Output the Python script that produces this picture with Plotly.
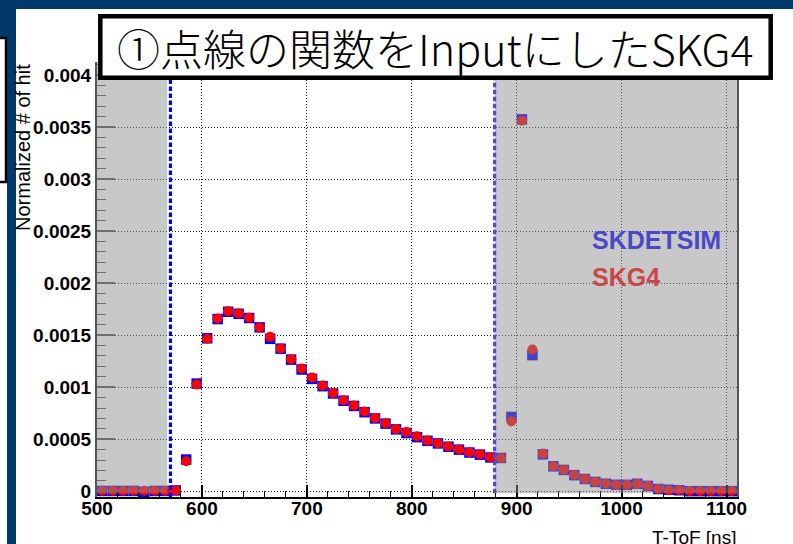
import plotly.graph_objects as go

# ---------------- data ----------------
bin_centers = [505, 515, 525, 535, 545, 555, 565, 575, 585, 595,
               605, 615, 625, 635, 645, 655, 665, 675, 685, 695,
               705, 715, 725, 735, 745, 755, 765, 775, 785, 795,
               805, 815, 825, 835, 845, 855, 865, 875, 885, 895,
               905, 915, 925, 935, 945, 955, 965, 975, 985, 995,
               1005, 1015, 1025, 1035, 1045, 1055, 1065, 1075, 1085, 1095, 1105]

skdetsim = [0.003e-3, 0.003e-3, 0.003e-3, 0.003e-3, -0.005e-3, 0.003e-3, 0.003e-3, 0.008e-3, 0.305e-3, 1.035e-3,
            1.470e-3, 1.655e-3, 1.725e-3, 1.705e-3, 1.665e-3, 1.575e-3, 1.465e-3, 1.370e-3, 1.265e-3, 1.170e-3,
            1.080e-3, 1.010e-3, 0.940e-3, 0.870e-3, 0.820e-3, 0.760e-3, 0.700e-3, 0.650e-3, 0.595e-3, 0.560e-3,
            0.520e-3, 0.485e-3, 0.460e-3, 0.428e-3, 0.400e-3, 0.372e-3, 0.352e-3, 0.325e-3, 0.320e-3, 0.714e-3,
            3.574e-3, 1.308e-3, 0.355e-3, 0.240e-3, 0.205e-3, 0.155e-3, 0.118e-3, 0.090e-3, 0.072e-3, 0.062e-3,
            0.062e-3, 0.072e-3, 0.052e-3, 0.022e-3, 0.015e-3, 0.010e-3, 0.001e-3, 0.001e-3, 0.001e-3, 0.001e-3, 0.001e-3]

skg4 = [0.005e-3, 0.005e-3, 0.005e-3, 0.005e-3, 0.005e-3, 0.005e-3, 0.005e-3, 0.008e-3, 0.288e-3, 1.026e-3,
        1.465e-3, 1.660e-3, 1.730e-3, 1.710e-3, 1.667e-3, 1.574e-3, 1.484e-3, 1.372e-3, 1.269e-3, 1.180e-3,
        1.093e-3, 1.016e-3, 0.945e-3, 0.875e-3, 0.824e-3, 0.766e-3, 0.705e-3, 0.654e-3, 0.599e-3, 0.570e-3,
        0.529e-3, 0.487e-3, 0.462e-3, 0.430e-3, 0.401e-3, 0.375e-3, 0.356e-3, 0.327e-3, 0.317e-3, 0.673e-3,
        3.560e-3, 1.362e-3, 0.362e-3, 0.240e-3, 0.208e-3, 0.157e-3, 0.119e-3, 0.090e-3, 0.074e-3, 0.061e-3,
        0.061e-3, 0.070e-3, 0.051e-3, 0.022e-3, 0.010e-3, 0.010e-3, 0.003e-3, 0.003e-3, 0.002e-3, 0.002e-3, 0.002e-3]

half_bin = 5

x_tickvals = [500, 600, 700, 800, 900, 1000, 1100]
x_ticktext = ["500", "600", "700", "800", "900", "1000", "1100"]
y_tickvals = [0, 0.0005, 0.001, 0.0015, 0.002, 0.0025, 0.003, 0.0035, 0.004]
y_ticktext = ["0", "0.0005", "0.001", "0.0015", "0.002", "0.0025", "0.003", "0.0035", "0.004"]
x_minor = [v for v in range(500, 1111, 20)]
y_minor = [i * 0.0001 for i in range(0, 42)]

window_low = 570      # blue dotted cut lines
window_high = 879
shade_left = (500, 567)
shade_right = (879, 1110)

title_text = "①点線の関数をInputにしたSKG4"
xtitle = "T-ToF [ns]"
ytitle = "Normalized # of hit"
label_det = "SKDETSIM"
label_g4 = "SKG4"

# ---------------- layout geometry ----------------
W, H = 793, 544
ML, MR, MT, MB = 97, 56, 62, 47
PW, PH = W - ML - MR, H - MT - MB
XR = [500, 1110]
YR = [-0.000055, 0.004125]


def px(xpix):
    return (xpix - ML) / PW


def py(ypix):
    return (H - MB - ypix) / PH


fig = go.Figure()

fig.add_trace(go.Scatter(
    x=bin_centers, y=skdetsim, mode="markers", name=label_det,
    marker=dict(symbol="square", size=10.5, color="#0000ff", line=dict(width=0)),
    error_x=dict(type="constant", value=half_bin, color="#0000ff", thickness=1, width=0),
    showlegend=False,
))
fig.add_trace(go.Scatter(
    x=bin_centers, y=skg4, mode="markers", name=label_g4,
    marker=dict(symbol="circle", size=10, color="#ff0000", line=dict(width=0)),
    error_x=dict(type="constant", value=half_bin, color="#ff6666", thickness=1, width=0),
    showlegend=False,
))

shapes = []
# page background decorations (slide)
navy = "#00386b"
shapes.append(dict(type="rect", xref="paper", yref="paper", x0=px(0), x1=px(W), y0=py(0), y1=py(9),
                   fillcolor=navy, line=dict(width=0), layer="below"))
shapes.append(dict(type="rect", xref="paper", yref="paper", x0=px(0), x1=px(16), y0=py(0), y1=py(38),
                   fillcolor=navy, line=dict(width=0), layer="below"))
shapes.append(dict(type="rect", xref="paper", yref="paper", x0=px(7), x1=px(16), y0=py(0), y1=py(H),
                   fillcolor=navy, line=dict(width=0), layer="below"))
shapes.append(dict(type="rect", xref="paper", yref="paper", x0=px(-10), x1=px(6), y0=py(38), y1=py(182),
                   fillcolor="white", line=dict(width=2.5, color="black"), layer="below"))

# grey shaded (excluded) regions, semi transparent above the markers
for (a, b) in (shade_left, shade_right):
    shapes.append(dict(type="rect", xref="x", yref="y", x0=a, x1=b, y0=-0.00002, y1=0.0045,
                       fillcolor="rgba(141,141,141,0.48)", line=dict(width=0), layer="above"))

# blue dotted window lines
shapes.append(dict(type="line", xref="x", yref="y", x0=window_low, x1=window_low, y0=YR[0], y1=YR[1],
                   line=dict(color="#0000ff", width=3.2, dash="4.5px,2.5px"), layer="above"))
shapes.append(dict(type="line", xref="x", yref="y", x0=window_high, x1=window_high, y0=-0.00002, y1=YR[1],
                   line=dict(color="#4b4bd8", width=3.2, dash="4.5px,2.5px"), layer="above"))

# title box
shapes.append(dict(type="rect", xref="paper", yref="paper", x0=px(100.3), x1=px(770.7), y0=py(16.3), y1=py(77.7),
                   fillcolor="white", line=dict(width=4.5, color="black"), layer="above"))

annotations = [
    dict(text=title_text, xref="paper", yref="paper", x=px(435.5), y=py(47), xanchor="center", yanchor="middle",
         showarrow=False, font=dict(family="Noto Sans CJK JP", size=43, color="black", weight=300)),
    dict(text=label_det, xref="paper", yref="paper", x=px(590), y=py(239.5), xanchor="left", yanchor="middle",
         showarrow=False, font=dict(family="Liberation Sans", size=25, color="#4848c8", weight="bold")),
    dict(text=label_g4, xref="paper", yref="paper", x=px(590), y=py(277), xanchor="left", yanchor="middle",
         showarrow=False, font=dict(family="Liberation Sans", size=25, color="#c84848", weight="bold")),
    dict(text=xtitle, xref="paper", yref="paper", x=px(738), y=0, xanchor="right", yanchor="top", yshift=-28,
         showarrow=False, font=dict(family="Liberation Sans", size=19, color="black")),
    dict(text=ytitle, xref="paper", yref="paper", x=px(22.5), y=1, xanchor="center", yanchor="top",
         textangle=-90, showarrow=False, font=dict(family="Liberation Sans", size=20, color="black")),
]

tickfont = dict(family="Liberation Sans", size=19, color="black", weight="bold")

fig.update_layout(
    width=W, height=H, autosize=False,
    margin=dict(l=ML, r=MR, t=MT, b=MB, pad=0),
    paper_bgcolor="white", plot_bgcolor="white",
    shapes=shapes, annotations=annotations,
    xaxis=dict(range=XR, tickmode="array", tickvals=x_tickvals, ticktext=x_ticktext,
               ticks="inside", ticklen=12, tickwidth=1.5, tickcolor="black",
               showline=True, linecolor="black", linewidth=2,
               showgrid=True, gridcolor="#222222", gridwidth=1, griddash="1px,2px",
               zeroline=False, tickfont=tickfont, ticklabelstandoff=-7,
               minor=dict(tickmode="array", tickvals=x_minor, ticks="inside", ticklen=6,
                          tickcolor="black", tickwidth=1, showgrid=False)),
    yaxis=dict(range=YR, tickmode="array", tickvals=y_tickvals, ticktext=y_ticktext,
               ticks="inside", ticklen=18, tickwidth=1.5, tickcolor="#555555",
               showline=True, linecolor="#555555", linewidth=2, mirror=True,
               showgrid=True, gridcolor="#222222", gridwidth=1, griddash="1px,2px",
               zeroline=False, tickfont=tickfont,
               minor=dict(tickmode="array", tickvals=y_minor, ticks="inside", ticklen=9,
                          tickcolor="#555555", tickwidth=1, showgrid=False)),
)

fig.write_html("out.html")
